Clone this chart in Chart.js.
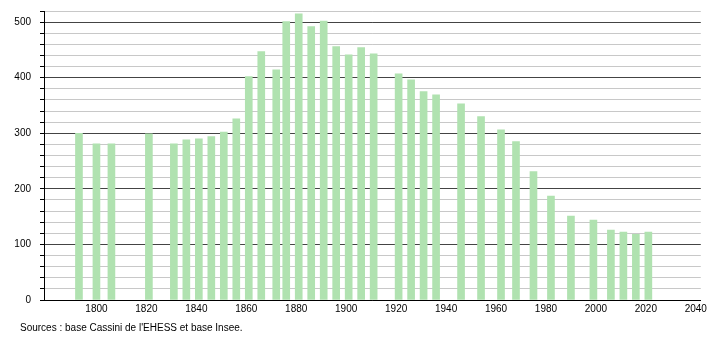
<!DOCTYPE html>
<html>
<head>
<meta charset="utf-8">
<script src="https://cdn.jsdelivr.net/npm/chart.js@4/dist/chart.umd.min.js"></script>
<style>
  html, body { margin: 0; padding: 0; background: #fff; }
  #wrap { position: relative; width: 710px; height: 340px; }
  #source {
    position: absolute; left: 20px; top: 322px;
    font: 10px "Liberation Sans", Arial, sans-serif; color: #000;
  }
</style>
</head>
<body>
<div id="wrap">
  <canvas id="myChart" width="710" height="340"></canvas>
  <div id="source">Sources : base Cassini de l'EHESS et base Insee.</div>
</div>
<script>
var years = [1793, 1800, 1806, 1821, 1831, 1836, 1841, 1846, 1851, 1856, 1861, 1866,
  1872, 1876, 1881, 1886, 1891, 1896, 1901, 1906, 1911, 1921, 1926, 1931, 1936,
  1946, 1954, 1962, 1968, 1975, 1982, 1990, 1999, 2006, 2011, 2016, 2021];
var population = [300, 281, 281, 299, 281, 288, 290, 294, 302, 326, 402, 447,
  414, 501, 515, 492, 502, 456, 441, 454, 443, 407, 396, 375, 369,
  353, 330, 306, 285, 231, 187, 151, 144, 126, 122, 118, 122];
var xTicks = [1800, 1820, 1840, 1860, 1880, 1900, 1920, 1940, 1960, 1980, 2000, 2020, 2040];
var yTicks = [0, 100, 200, 300, 400, 500];

var points = years.map(function (y, i) { return { x: y, y: population[i] }; });
var font = { family: "'Liberation Sans', Arial, sans-serif", size: 10 };

var ctx = document.getElementById("myChart");
var myChart = new Chart(ctx, {
  type: "bar",
  data: {
    datasets: [
      {
        data: points,
        backgroundColor: "#b0e2b0",
        borderWidth: 0,
        barThickness: 7,
      },
    ],
  },
  options: {
    responsive: false,
    animation: false,
    devicePixelRatio: 1,
    layout: { padding: { top: 11, right: 9, left: 0, bottom: 0 } },
    plugins: {
      legend: { display: false },
      tooltip: { enabled: false },
    },
    scales: {
      x: {
        type: "linear",
        min: 1779,
        max: 2042,
        offset: false,
        afterBuildTicks: function (scale) {
          scale.ticks = xTicks.map(function (v) { return { value: v }; });
        },
        afterFit: function (scale) { scale.height = 40; },
        ticks: {
          color: "#000",
          font: font,
          maxRotation: 0,
          autoSkip: false,
          padding: 3,
          callback: function (v) { return String(v); },
        },
        grid: { display: false, drawTicks: false },
        border: { display: true, color: "#000", width: 1 },
      },
      y: {
        min: 0,
        max: 520,
        afterBuildTicks: function (scale) {
          var t = [];
          for (var v = 0; v <= 520; v += 20) t.push({ value: v });
          scale.ticks = t;
        },
        ticks: {
          color: "#000",
          font: font,
          padding: 9,
          autoSkip: false,
          callback: function (v) { return yTicks.indexOf(v) >= 0 ? String(v) : ""; },
        },
        afterFit: function (scale) {
          scale.width = 44;
          scale.paddingTop = 0;
          scale.paddingBottom = 0;
        },
        grid: {
          color: function (c) {
            return c.tick && c.tick.value % 100 === 0 ? "#444" : "#c8c8c8";
          },
          tickColor: "#000",
          tickLength: 4,
          lineWidth: 1,
        },
        border: { display: true, color: "#000", width: 1 },
      },
    },
  },
});
</script>
</body>
</html>
